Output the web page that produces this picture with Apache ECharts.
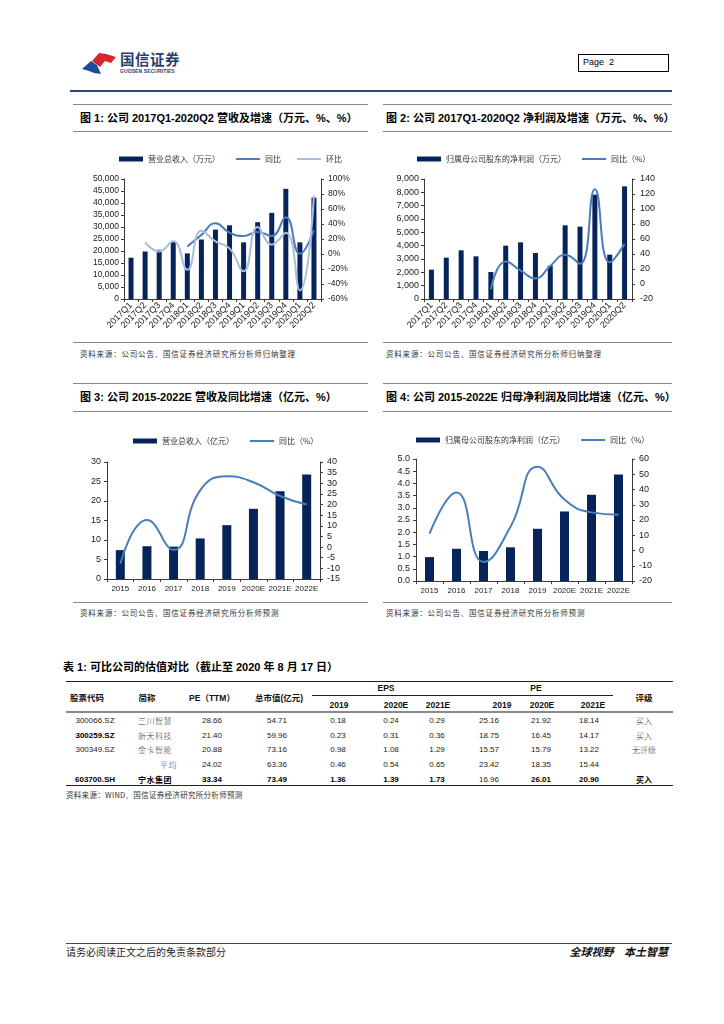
<!DOCTYPE html>
<html><head><meta charset="utf-8">
<script src="https://cdn.jsdelivr.net/npm/echarts@6.0.0/dist/echarts.min.js"></script>
<style>
html,body{margin:0;padding:0;background:#fff}
body{width:724px;height:1024px;position:relative;overflow:hidden;font-family:"Liberation Sans","Noto Sans CJK SC",sans-serif;color:#000}
.a{position:absolute;white-space:nowrap;line-height:1}
.hl{position:absolute;height:0}
.t{position:absolute;white-space:nowrap;font-size:11px;font-weight:bold;line-height:1;transform:translateY(-50%);font-family:"Liberation Sans","Noto Sans CJK SC",sans-serif}
.src{position:absolute;white-space:nowrap;font-size:7.5px;color:#333;font-family:"Noto Sans CJK SC";letter-spacing:0.8px;line-height:1;transform:translateY(-50%)}
.c{position:absolute;white-space:nowrap;font-size:8px;line-height:1;transform:translate(-50%,-50%);color:#222;font-family:"Liberation Sans","Noto Sans CJK SC",sans-serif}
.chart{position:absolute}
</style></head><body>

<!-- header -->
<svg class="a" style="left:80px;top:50px" width="40" height="28" viewBox="0 0 40 28">
  <path d="M12,11 L19,3 L26,4 L36,7 L31,13 L25,11 L20,17 Z" fill="#d7262e"/>
  <path d="M2,19 L11,11 L17,15 L21,24 L14,23 L9,21 Z" fill="#1f4e99"/>
</svg>
<div class="a" style="left:120px;top:52px;font-size:14.5px;font-weight:bold;color:#2b3f6b;font-family:'Noto Sans CJK SC';letter-spacing:0.5px">国信证券</div>
<div class="a" style="left:120px;top:69px;font-size:5px;font-weight:bold;color:#2b3f6b;letter-spacing:0.1px">GUOSEN SECURITIES</div>
<div class="a" style="left:578px;top:54px;width:89px;height:16px;border:1px solid #000"></div>
<div class="a" style="left:583px;top:58px;font-size:9px">Page&nbsp;&nbsp;2</div>
<div class="hl" style="left:70px;top:90px;width:602px;border-top:2px solid #2a4878"></div>

<!-- figure titles row 1 -->
<div class="hl" style="left:73px;top:104px;width:295px;border-top:1.5px solid #8a8a8a"></div>
<div class="hl" style="left:383px;top:104px;width:289px;border-top:1.5px solid #8a8a8a"></div>
<div class="t" style="left:80px;top:118px">图 1: 公司 2017Q1-2020Q2 营收及增速（万元、%、%）</div>
<div class="t" style="left:386px;top:118px">图 2: 公司 2017Q1-2020Q2 净利润及增速（万元、%、%）</div>
<div class="hl" style="left:73px;top:131px;width:295px;border-top:1px solid #8a8a8a"></div>
<div class="hl" style="left:383px;top:131px;width:289px;border-top:1px solid #8a8a8a"></div>

<div id="c1" class="chart" style="left:70px;top:135px;width:300px;height:205px"></div>
<div id="c2" class="chart" style="left:383px;top:135px;width:300px;height:205px"></div>

<div class="hl" style="left:73px;top:342px;width:295px;border-top:1px solid #8a8a8a"></div>
<div class="hl" style="left:383px;top:342px;width:289px;border-top:1px solid #8a8a8a"></div>
<div class="src" style="left:80px;top:354px">资料来源：公司公告、国信证券经济研究所分析师归纳整理</div>
<div class="src" style="left:386px;top:354px">资料来源：公司公告、国信证券经济研究所分析师归纳整理</div>

<!-- figure titles row 2 -->
<div class="hl" style="left:73px;top:383px;width:295px;border-top:1.5px solid #8a8a8a"></div>
<div class="hl" style="left:383px;top:383px;width:289px;border-top:1.5px solid #8a8a8a"></div>
<div class="t" style="left:80px;top:397px">图 3: 公司 2015-2022E 营收及同比增速（亿元、%）</div>
<div class="t" style="left:386px;top:397px">图 4: 公司 2015-2022E 归母净利润及同比增速（亿元、%）</div>
<div class="hl" style="left:73px;top:411px;width:295px;border-top:1px solid #8a8a8a"></div>
<div class="hl" style="left:383px;top:411px;width:289px;border-top:1px solid #8a8a8a"></div>

<div id="c3" class="chart" style="left:70px;top:415px;width:300px;height:186px"></div>
<div id="c4" class="chart" style="left:383px;top:415px;width:300px;height:186px"></div>

<div class="hl" style="left:73px;top:602px;width:295px;border-top:1px solid #8a8a8a"></div>
<div class="hl" style="left:383px;top:602px;width:289px;border-top:1px solid #8a8a8a"></div>
<div class="src" style="left:80px;top:613px">资料来源：公司公告、国信证券经济研究所分析师预测</div>
<div class="src" style="left:386px;top:613px">资料来源：公司公告、国信证券经济研究所分析师预测</div>

<!-- table -->
<div class="t" style="left:63px;top:667px">表 1: 可比公司的估值对比（截止至 2020 年 8 月 17 日）</div>
<div class="hl" style="left:66px;top:681px;width:607px;border-top:1.5px solid #222"></div>
<div class="hl" style="left:312px;top:695px;width:301px;border-top:1px solid #222"></div>
<div class="hl" style="left:66px;top:711px;width:607px;border-top:2.5px solid #8a8a8a"></div>
<div class="hl" style="left:66px;top:785px;width:607px;border-top:1.5px solid #222"></div>
<div id="tbl"></div>
<div class="src" style="left:66px;top:795px;font-size:7.5px;letter-spacing:0.3px">资料来源：WIND、国信证券经济研究所分析师预测</div>

<!-- footer -->
<div class="hl" style="left:66px;top:943px;width:606px;border-top:1.5px solid #2a4878"></div>
<div class="a" style="left:66px;top:947px;font-size:10px;color:#222;font-family:'Noto Sans CJK SC'">请务必阅读正文之后的免责条款部分</div>
<div class="a" style="right:56px;top:946px;font-size:11px;font-weight:bold;font-style:italic;color:#111;font-family:'Noto Sans CJK SC';word-spacing:8px">全球视野 本土智慧</div>

<script>
// ---------- data ----------
const quarters = ['2017Q1','2017Q2','2017Q3','2017Q4','2018Q1','2018Q2','2018Q3','2018Q4','2019Q1','2019Q2','2019Q3','2019Q4','2020Q1','2020Q2'];
const qRevenue = [17200,19800,20500,23900,19000,24800,28900,30700,23600,32000,35900,45900,23600,42200];
const qRevenueYoY = ['-','-','-','-',10,25.5,41,28.5,24,29.5,24,49,0.2,32];
const qRevenueQoQ = ['-',15.5,3.5,17,-21,31,16.8,7.5,-23,36,12.5,28.5,-48.5,78];
const qProfit = [2200,3100,3650,3200,2025,4000,4250,3450,2500,5525,5425,7825,3325,8450];
const qProfitYoY = ['-','-','-','-',-7,30,18,7.5,24,39,27,126.5,29,53.5];

const years = ['2015','2016','2017','2018','2019','2020E','2021E','2022E'];
const yRevenue = [7.4,8.4,8.3,10.4,13.8,18.0,22.5,26.8];
const yRevenueYoY = [-7.8,12.7,-1.3,26.7,33.3,30.5,24,20];
const yProfit = [0.98,1.32,1.23,1.38,2.14,2.85,3.53,4.36];
const yProfitYoY = [11,38,-7.6,15.5,55,33.4,25,23.5];

const tCodes = ['300066.SZ','300259.SZ','300349.SZ','','603700.SH'];
const tNames = ['三川智慧','新天科技','金卡智能','平均','宁水集团'];
const tPE = ['28.66','21.40','20.88','24.02','33.34'];
const tCap = ['54.71','59.96','73.16','63.36','73.49'];
const tEps2019 = ['0.18','0.23','0.98','0.46','1.36'];
const tEps2020 = ['0.24','0.31','1.08','0.54','1.39'];
const tEps2021 = ['0.29','0.36','1.29','0.65','1.73'];
const tPe2019 = ['25.16','18.75','15.57','23.42','16.96'];
const tPe2020 = ['21.92','16.45','15.79','18.35','26.01'];
const tPe2021 = ['18.14','14.17','13.22','15.44','20.90'];
const tRating = ['买入','买入','无评级','','买入'];

// ---------- table ----------
(function(){
  const tbl = document.getElementById('tbl');
  function cell(txt,x,y,opt){
    const d=document.createElement('div');d.className='c';d.textContent=txt;
    d.style.left=x+'px';d.style.top=y+'px';
    if(opt){for(const k in opt) d.style[k]=opt[k];}
    tbl.appendChild(d);
  }
  const hb={fontWeight:'bold',fontSize:'8.5px',color:'#111'};
  cell('股票代码',87,698,hb);cell('简称',147,698,hb);cell('PE（TTM）',212,698,hb);cell('总市值(亿元)',279,698,hb);
  cell('EPS',386,688,hb);cell('PE',536,688,hb);cell('评级',644,698,hb);
  cell('2019',339,705,hb);cell('2020E',396,705,hb);cell('2021E',438,705,hb);
  cell('2019',502,705,hb);cell('2020E',542,705,hb);cell('2021E',593,705,hb);
  const rowY=[721,735.5,750,764.5,779.5];
  const boldCols=[[0,0,0,0,0,0,0,0,0,0,0],[1,0,0,0,0,0,0,0,0,0,0],[0,0,0,0,0,0,0,0,0,0,0],[0,0,0,0,0,0,0,0,0,0,0],[1,1,1,1,1,1,1,0,1,1,1]];
  for(let r=0;r<5;r++){
    const y=rowY[r];
    const b=boldCols[r];
    const st=(i)=>b[i]?{fontWeight:'bold',color:'#000'}:null;
    cell(tCodes[r],95,y,st(0));
    const nm=document.createElement('div');nm.className='c';nm.textContent=tNames[r];
    nm.style.transform='translateY(-50%)';nm.style.fontFamily="'Noto Sans CJK SC'";
    nm.style.left=(r===3?160:138)+'px';nm.style.top=y+'px';nm.style.letterSpacing='0.5px';
    nm.style.fontWeight=b[1]?'bold':'300';nm.style.color=b[1]?'#000':'#333';
    tbl.appendChild(nm);
    cell(tPE[r],212,y,st(2));cell(tCap[r],277,y,st(3));
    cell(tEps2019[r],338,y,st(4));cell(tEps2020[r],391,y,st(5));cell(tEps2021[r],437,y,st(6));
    cell(tPe2019[r],489,y,st(7));cell(tPe2020[r],541,y,st(8));cell(tPe2021[r],589,y,st(9));
    if(tRating[r]){cell(tRating[r],644,y,b[10]?{fontWeight:'bold',color:'#000',fontFamily:"'Noto Sans CJK SC'"}:{fontWeight:'300',color:'#333',fontFamily:"'Noto Sans CJK SC'"});}
  }
})();

// ---------- charts ----------
const BAR = '#06245a';
const LINE1 = '#4a7ebb';
const LINE2 = '#a9bde0';
const AX = '#3a3a3a';
const LINE_ICON = 'path://M0,0 L24,0 L24,2 L0,2 Z';
const legendText = {fontSize:8,color:'#333',fontFamily:'Noto Sans CJK SC'};

function vAxis(min,max,interval,fmt,pos,margin,fs){
  return {type:'value',min:min,max:max,interval:interval,position:pos,
    axisLine:{show:true,lineStyle:{color:AX,width:1}},
    axisTick:{show:true,length:3,lineStyle:{color:AX}},
    splitLine:{show:false},
    axisLabel:{formatter:fmt,fontSize:fs,color:'#1a1a1a',margin:margin,fontFamily:'Liberation Sans'}};
}
function cAxis(data,rotate,fs,margin){
  return {type:'category',data:data,
    axisLine:{show:true,lineStyle:{color:AX,width:1}},
    axisTick:{show:true,length:3,lineStyle:{color:AX}},
    axisLabel:{rotate:rotate,interval:0,fontSize:fs,color:'#1a1a1a',margin:margin,fontFamily:'Liberation Sans'}};
}
const comma = v => v.toLocaleString('en-US');
function legend(left,top,items){
  return {left:left,top:top,itemWidth:24,itemHeight:5,itemGap:16,symbolKeepAspect:true,textStyle:legendText,
    data:items.map((n,i)=>({name:n,icon:i===0?'rect':LINE_ICON}))};
}

const c1 = echarts.init(document.getElementById('c1'));
c1.setOption({
  animation:false,
  legend:legend(44,15,['营业总收入（万元）','同比','环比']),
  grid:{left:54,top:44,width:197,height:120},
  xAxis:cAxis(quarters,45,9,5),
  yAxis:[vAxis(0,50000,5000,comma,'left',5,8.5), vAxis(-60,100,20,'{value}%','right',7,8.5)],
  series:[
    {name:'营业总收入（万元）',type:'bar',data:qRevenue,barWidth:5,itemStyle:{color:BAR}},
    {name:'同比',type:'line',yAxisIndex:1,data:qRevenueYoY,smooth:true,symbol:'none',lineStyle:{color:LINE1,width:2},itemStyle:{color:LINE1}},
    {name:'环比',type:'line',yAxisIndex:1,data:qRevenueQoQ,smooth:true,symbol:'none',lineStyle:{color:LINE2,width:2},itemStyle:{color:LINE2}}
  ]
});

const c2 = echarts.init(document.getElementById('c2'));
c2.setOption({
  animation:false,
  legend:legend(29,15,['归属母公司股东的净利润（万元）','同比（%）']),
  grid:{left:41,top:44,width:208,height:120},
  xAxis:cAxis(quarters,45,9,5),
  yAxis:[vAxis(0,9000,1000,comma,'left',5,9), vAxis(-20,140,20,'{value}','right',8,9)],
  series:[
    {name:'归属母公司股东的净利润（万元）',type:'bar',data:qProfit,barWidth:5,itemStyle:{color:BAR}},
    {name:'同比（%）',type:'line',yAxisIndex:1,data:qProfitYoY,smooth:true,symbol:'none',lineStyle:{color:LINE1,width:2},itemStyle:{color:LINE1}}
  ]
});

const c3 = echarts.init(document.getElementById('c3'));
c3.setOption({
  animation:false,
  legend:legend(58,17,['营业总收入（亿元）','同比（%）']),
  grid:{left:37,top:47,width:213,height:117},
  xAxis:cAxis(years,0,8,6),
  yAxis:[vAxis(0,30,5,'{value}','left',6,9), vAxis(-15,40,5,'{value}','right',7,9)],
  series:[
    {name:'营业总收入（亿元）',type:'bar',data:yRevenue,barWidth:9,itemStyle:{color:BAR}},
    {name:'同比（%）',type:'line',yAxisIndex:1,data:yRevenueYoY,smooth:true,symbol:'none',lineStyle:{color:LINE1,width:2},itemStyle:{color:LINE1}}
  ]
});

const c4 = echarts.init(document.getElementById('c4'));
c4.setOption({
  animation:false,
  legend:legend(28,16,['归属母公司股东的净利润（亿元）','同比（%）']),
  grid:{left:33,top:44,width:216,height:122},
  xAxis:cAxis(years,0,8,6),
  yAxis:[vAxis(0,5,0.5,v=>v.toFixed(1),'left',6,9), vAxis(-20,60,10,'{value}','right',7,9)],
  series:[
    {name:'归属母公司股东的净利润（亿元）',type:'bar',data:yProfit,barWidth:9,itemStyle:{color:BAR}},
    {name:'同比（%）',type:'line',yAxisIndex:1,data:yProfitYoY,smooth:true,symbol:'none',lineStyle:{color:LINE1,width:2},itemStyle:{color:LINE1}}
  ]
});
</script>
</body></html>
